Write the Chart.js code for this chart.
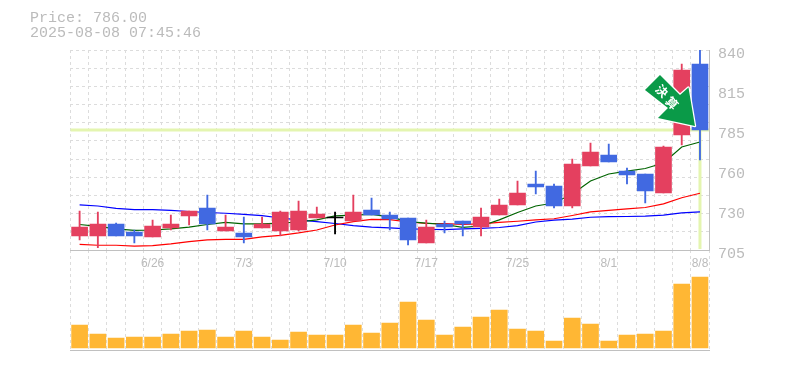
<!DOCTYPE html>
<html>
<head>
<meta charset="utf-8">
<script src="https://cdn.jsdelivr.net/npm/chart.js@4"></script>
<style>
    body { margin: 0; background: #fff; }
    #wrap { position: relative; width: 785px; height: 370px; overflow: hidden; }
    canvas { position: absolute; left: 0; top: 0; }
    #head { position: absolute; left: 30px; top: 11px; font: 15px/15px "Liberation Mono", monospace; color: #bbb; white-space: pre; }
</style>
</head>
<body>
<div id="wrap">
    <canvas id="volChart" width="785" height="370"></canvas>
    <canvas id="priceChart" width="785" height="275"></canvas>
    <div id="head">Price: 786.00
2025-08-08 07:45:46</div>
</div>
<script>
const dates = ['6/20','6/23','6/24','6/25','6/26','6/27','6/30','7/1','7/2','7/3','7/4','7/7','7/8','7/9','7/10','7/11','7/14','7/15','7/16','7/17','7/18','7/22','7/23','7/24','7/25','7/28','7/29','7/30','7/31','8/1','8/4','8/5','8/6','8/7','8/8'];
const open = [714.45,714.45,722.55,717.15,713.8,719.85,727.95,733.35,717.8,716.5,719.85,717.8,718.5,726.6,726.6,724.6,732,728.6,726.6,709.7,722.55,724.6,720.5,728.6,735.4,749.55,748.2,734.7,761.7,769.1,758.3,756.3,743.5,782.6,830.55];
const close = [720.5,722.55,714.45,714.45,721.2,722.55,731.3,722.55,720.5,713.8,722.55,730.65,731.3,729.3,726.6,730.65,728.6,725.9,711.75,720.5,720.5,722.55,727.3,735.4,743.5,747.5,734.7,763.05,771.15,764.4,755.6,744.8,774.5,826.5,786];
const high = [731.3,730.65,723.2,718.5,725.25,728.6,731.3,742.1,728.6,727.3,727.3,731.3,738.1,734,730.65,742.1,740.1,730.65,726.6,725.25,724.6,724.6,733.35,739.4,751.6,758.3,749.55,766.4,777.2,776.55,760.35,756.3,775.2,830.55,840];
const low = [711.75,706.5,714.45,709.7,713.8,718.5,721.9,718.5,717.8,709.7,719.85,714.45,717.8,726.6,715.8,724.6,728.6,718.5,708.4,709.7,716.5,714.45,714.45,728.6,735.4,742.8,733.35,733.35,761.7,764.4,749.55,736.7,743.5,775.9,765.75];
const ma5 = [722.2,720.9,719.2,718.3,718.5,719.2,720.5,722.2,723.6,722.6,722.6,723.2,723.9,725.3,728,728.6,729.1,727.3,724.1,723.2,722.2,720.3,721.2,725.3,730.3,734.7,736.7,742.8,751.6,756.3,758.3,760,763.7,774.5,777.9];
const ma25 = [708.8,708.2,708.2,707.6,708,709.1,710.7,711.8,712.2,712.2,713.8,714.9,716.5,718.5,721.9,724.2,725.7,725.5,723.9,722.9,722.8,722.3,722.6,723.7,724.4,725.3,726.1,728.3,730.7,731.8,732.7,733.7,736.1,740.3,743.3];
const ma75 = [735.4,734.7,733.1,732.3,732.2,731.8,731,730.3,729.8,729,728.2,726.6,725.3,724.2,722.9,721.5,720.5,719.9,719.2,719,718.8,719.2,719.6,720.2,721.5,723.9,725.1,725.9,727.1,727.5,727.6,727.9,728.5,730,730.7];
const volume = [23,14,10,11,11,14,17,18,11,17,11,8,16,13,13,23,15,25,46,28,13,21,31,38,19,17,7,30,24,7,13,14,17,64,71];
const priceTickLabels = ['705','730','760','785','815','840'];
const lastPrice = 786;
const markerText = ['決','算'];

const priceMin = 705;
const priceMax = 840;
const gridColor = '#dcdcdc';
const axisColor = '#c0c0c0';
const textColor = '#bbb';
const upColor = '#e4405f';
const downColor = '#4169e1';
const plotLeft = 70.49;
const plotRightGap = 75.9;

const candleColors = open.map((o, i) => close[i] > o ? upColor : close[i] < o ? downColor : '#000');

const xGrid = { offset: true, color: gridColor, lineWidth: 1, drawTicks: false };
const xBorder = { display: true, color: axisColor, width: 1, dash: [3, 3] };

// pale price level lines, under the candles
const priceLevelPlugin = {
    id: 'priceLevel',
    beforeDatasetsDraw(chart) {
        const { ctx, chartArea, scales } = chart;
        const y = scales.y.getPixelForValue(lastPrice);
        const x = scales.x.getPixelForValue(dates.length - 1);
        ctx.save();
        ctx.strokeStyle = '#e4f5b0';
        ctx.lineWidth = 3;
        ctx.beginPath();
        ctx.moveTo(chartArea.left, y);
        ctx.lineTo(chartArea.right, y);
        ctx.moveTo(x, y);
        ctx.lineTo(x, chartArea.bottom - 1);
        ctx.stroke();
        ctx.restore();
    }
};

// green arrow pointing at the last candle
const markerPlugin = {
    id: 'marker',
    afterDatasetsDraw(chart) {
        const { ctx, scales } = chart;
        const tipX = scales.x.getPixelForValue(dates.length - 1) - 5;
        const tipY = scales.y.getPixelForValue(lastPrice) - 4;
        const shape = [[-35, -51], [-15, -31], [-6.5, -38.5], [0, 0], [-37, -8], [-27, -18], [-50, -36]];
        ctx.save();
        ctx.translate(tipX, tipY);
        ctx.beginPath();
        shape.forEach((p, i) => i ? ctx.lineTo(p[0], p[1]) : ctx.moveTo(p[0], p[1]));
        ctx.closePath();
        ctx.lineJoin = 'round';
        ctx.lineWidth = 2.5;
        ctx.strokeStyle = '#fff';
        ctx.stroke();
        ctx.fillStyle = '#0a9a48';
        ctx.fill();
        ctx.fillStyle = '#fff';
        ctx.font = 'bold 12px "Noto Sans CJK JP"';
        ctx.textAlign = 'center';
        ctx.textBaseline = 'middle';
        [[-33, -35], [-23, -23]].forEach((p, i) => {
            ctx.save();
            ctx.translate(p[0], p[1]);
            ctx.rotate(Math.PI / 4);
            ctx.fillText(markerText[i], 0, 0);
            ctx.restore();
        });
        ctx.restore();
    }
};

new Chart(document.getElementById('priceChart'), {
    data: {
        labels: dates,
        datasets: [
            { type: 'bar', data: open.map((o, i) => [o, close[i]]), backgroundColor: candleColors, barThickness: 16, minBarLength: 1, grouped: false, order: 1 },
            { type: 'bar', data: low.map((l, i) => [l, high[i]]), backgroundColor: candleColors, barThickness: 1.2, grouped: false, order: 1 },
            { type: 'line', data: ma5, borderColor: '#006400', borderWidth: 1.2, pointRadius: 0, order: 2 },
            { type: 'line', data: ma25, borderColor: '#ff0000', borderWidth: 1.2, pointRadius: 0, order: 2 },
            { type: 'line', data: ma75, borderColor: '#0000ff', borderWidth: 1.2, pointRadius: 0, order: 2 }
        ]
    },
    plugins: [priceLevelPlugin, markerPlugin],
    options: {
        responsive: false,
        animation: false,
        events: [],
        layout: { padding: { left: plotLeft, top: 50, right: 0, bottom: 0 } },
        plugins: { legend: { display: false }, tooltip: { enabled: false } },
        scales: {
            x: {
                grid: xGrid,
                border: xBorder,
                afterFit: (axis) => { axis.height = 25; },
                ticks: {
                    autoSkip: false,
                    maxRotation: 0,
                    padding: 6,
                    color: textColor,
                    font: { family: 'Liberation Sans', size: 12 },
                    callback: (value, index) => index % 5 === 4 ? dates[index] : ''
                }
            },
            y: {
                position: 'left',
                min: priceMin,
                max: priceMax,
                afterFit: (axis) => { axis.width = 0; },
                afterBuildTicks: (axis) => {
                    axis.ticks = [];
                    for (let i = 0; i <= 11; i++) axis.ticks.push({ value: priceMin + i * (priceMax - priceMin) / 11 });
                },
                ticks: { display: false },
                grid: { color: gridColor, drawTicks: false },
                border: { display: false, dash: [3, 3] }
            },
            yLabels: {
                position: 'right',
                min: priceMin,
                max: priceMax,
                afterFit: (axis) => { axis.width = plotRightGap; },
                afterBuildTicks: (axis) => {
                    axis.ticks = priceTickLabels.map((t, i) => ({ value: priceMin + i * 27 }));
                },
                grid: { drawOnChartArea: false, drawTicks: false },
                border: { display: true, color: axisColor },
                ticks: {
                    autoSkip: false,
                    padding: 9,
                    labelOffset: 4,
                    color: textColor,
                    font: { family: 'Liberation Mono', size: 15 },
                    callback: (value, index) => priceTickLabels[index]
                }
            }
        }
    }
});

new Chart(document.getElementById('volChart'), {
    data: {
        labels: dates,
        datasets: [
            { type: 'bar', data: volume, backgroundColor: '#ffb734', barThickness: 16 }
        ]
    },
    options: {
        responsive: false,
        animation: false,
        events: [],
        layout: { padding: { left: plotLeft, top: 250, right: plotRightGap, bottom: 19 } },
        plugins: { legend: { display: false }, tooltip: { enabled: false } },
        scales: {
            x: {
                grid: xGrid,
                border: xBorder,
                afterFit: (axis) => { axis.height = 1; },
                ticks: { display: false }
            },
            y: {
                min: -2,
                max: 98,
                afterFit: (axis) => { axis.width = 0; },
                ticks: { display: false },
                grid: { display: false },
                border: { display: false }
            }
        }
    }
});
</script>
</body>
</html>
